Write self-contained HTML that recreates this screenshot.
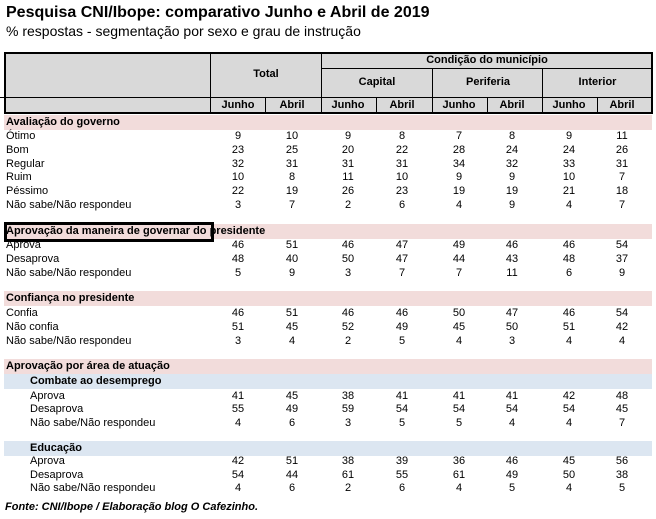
<!DOCTYPE html>
<html><head><meta charset="utf-8"><style>
body{margin:0;width:656px;height:519px;background:#fff;position:relative;overflow:hidden;font-family:"Liberation Sans",Arial,sans-serif;color:#000}
.a{position:absolute;white-space:nowrap}
.t{font-size:11px;line-height:14px}
.n{font-size:11px;line-height:14px;text-align:center;width:40px}
.b{font-weight:bold}
.ln{position:absolute;background:#000}
</style></head><body>
<div class="a b" style="left:6px;top:3px;font-size:16px;line-height:20px">Pesquisa CNI/Ibope: comparativo Junho e Abril de 2019</div>
<div class="a" style="left:6px;top:22px;font-size:14px;line-height:18px">% respostas - segmentação por sexo e grau de instrução</div>

<div class="a" style="left:4px;top:52px;width:648px;height:61px;background:#d9d9d9"></div>
<div class="ln" style="left:4px;top:52px;width:649px;height:2px"></div>
<div class="ln" style="left:4px;top:52px;width:2px;height:62px"></div>
<div class="ln" style="left:651px;top:52px;width:2px;height:62px"></div>
<div class="ln" style="left:210px;top:52px;width:1px;height:62px"></div>
<div class="ln" style="left:321px;top:52px;width:1px;height:62px"></div>
<div class="ln" style="left:321px;top:68px;width:331px;height:1px"></div>
<div class="ln" style="left:432px;top:68px;width:1px;height:46px"></div>
<div class="ln" style="left:542px;top:68px;width:1px;height:46px"></div>
<div class="ln" style="left:0px;top:97px;width:653px;height:1px"></div>
<div class="ln" style="left:4px;top:112px;width:649px;height:2px"></div>
<div class="ln" style="left:265px;top:97px;width:1px;height:16px"></div>
<div class="ln" style="left:376px;top:97px;width:1px;height:16px"></div>
<div class="ln" style="left:487px;top:97px;width:1px;height:16px"></div>
<div class="ln" style="left:597px;top:97px;width:1px;height:16px"></div>

<div class="a t b" style="left:322px;top:53px;width:330px;text-align:center">Condição do município</div>
<div class="a t b" style="left:211px;top:67px;width:110px;text-align:center">Total</div>
<div class="a t b" style="left:322px;top:75px;width:110px;text-align:center">Capital</div>
<div class="a t b" style="left:433px;top:75px;width:110px;text-align:center">Periferia</div>
<div class="a t b" style="left:543px;top:75px;width:109px;text-align:center">Interior</div>

<div id="root"></div>
<div class="a t b" style="left:5px;top:500px;font-style:italic">Fonte: CNI/Ibope / Elaboração blog O Cafezinho.</div>
<div class="a" style="left:4px;top:222px;width:204px;height:14px;border:3px solid #000"></div>

<script>
const colCenters=[238,292,348,402,459,512,569,622];
const months=["Junho","Abril","Junho","Abril","Junho","Abril","Junho","Abril"];
const sections=[
 {type:"pink",y:115,label:"Avaliação do governo"},
 {type:"row",y:129,label:"Ótimo",v:[9,10,9,8,7,8,9,11]},
 {type:"row",y:143,label:"Bom",v:[23,25,20,22,28,24,24,26]},
 {type:"row",y:157,label:"Regular",v:[32,31,31,31,34,32,33,31]},
 {type:"row",y:170,label:"Ruim",v:[10,8,11,10,9,9,10,7]},
 {type:"row",y:184,label:"Péssimo",v:[22,19,26,23,19,19,21,18]},
 {type:"row",y:198,label:"Não sabe/Não respondeu",v:[3,7,2,6,4,9,4,7]},
 {type:"pink",y:224,label:"Aprovação da maneira de governar do presidente"},
 {type:"row",y:238,label:"Aprova",v:[46,51,46,47,49,46,46,54]},
 {type:"row",y:252,label:"Desaprova",v:[48,40,50,47,44,43,48,37]},
 {type:"row",y:266,label:"Não sabe/Não respondeu",v:[5,9,3,7,7,11,6,9]},
 {type:"pink",y:291,label:"Confiança no presidente"},
 {type:"row",y:306,label:"Confia",v:[46,51,46,46,50,47,46,54]},
 {type:"row",y:320,label:"Não confia",v:[51,45,52,49,45,50,51,42]},
 {type:"row",y:334,label:"Não sabe/Não respondeu",v:[3,4,2,5,4,3,4,4]},
 {type:"pink",y:359,label:"Aprovação por área de atuação"},
 {type:"blue",y:374,label:"Combate ao desemprego"},
 {type:"row",y:389,label:"Aprova",v:[41,45,38,41,41,41,42,48],ind:1},
 {type:"row",y:402,label:"Desaprova",v:[55,49,59,54,54,54,54,45],ind:1},
 {type:"row",y:416,label:"Não sabe/Não respondeu",v:[4,6,3,5,5,4,4,7],ind:1},
 {type:"blue",y:441,label:"Educação"},
 {type:"row",y:454,label:"Aprova",v:[42,51,38,39,36,46,45,56],ind:1},
 {type:"row",y:468,label:"Desaprova",v:[54,44,61,55,61,49,50,38],ind:1},
 {type:"row",y:481,label:"Não sabe/Não respondeu",v:[4,6,2,6,4,5,4,5],ind:1}
];
const root=document.getElementById('root');
function mk(cls,style,text){const d=document.createElement('div');d.className=cls;d.style.cssText=style;if(text!==undefined)d.textContent=text;root.appendChild(d);return d;}
months.forEach((m,i)=>{
 const d=mk('a n b','left:'+(colCenters[i]-20)+'px;top:98px',m);
 
 
});
sections.forEach((s,k)=>{
 if(s.type==="row"){
  const l=mk('a t','left:'+(s.ind?30:6)+'px;top:'+s.y+'px',s.label);
  
  
  s.v.forEach((v,i)=>{
   const c=mk('a n','left:'+(colCenters[i]-20)+'px;top:'+s.y+'px',String(v));
   
   
  });
 } else {
  const bg=mk('a','left:4px;top:'+s.y+'px;width:648px;height:15px;background:'+(s.type==="pink"?"#f2dcdb":"#dce6f1"));
  
  
  const l=mk('a t b','left:'+(s.type==="blue"?30:6)+'px;top:'+s.y+'px',s.label);
  
  
 }
});
</script>
</body></html>
